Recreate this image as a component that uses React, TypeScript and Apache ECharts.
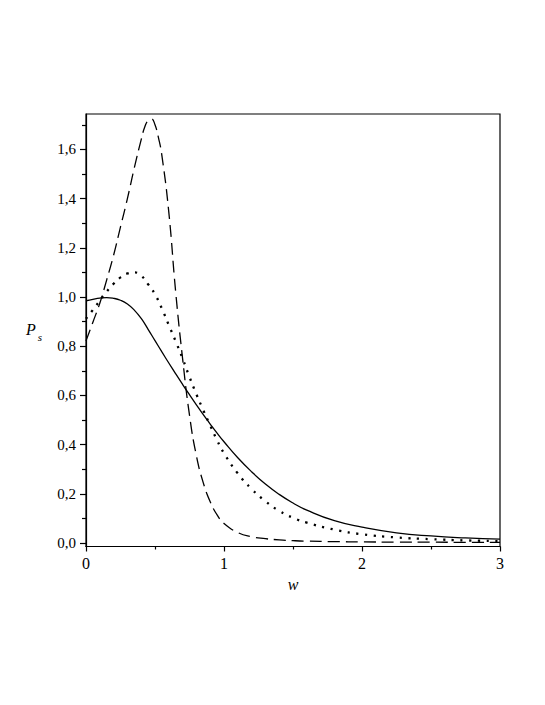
import React, { useEffect, useRef } from "react";
import * as echarts from "echarts";

// Shared abscissa grid (w) for the solid and dotted curves
const W = [
  0, 0.05, 0.1, 0.15, 0.2, 0.25, 0.3, 0.35, 0.4, 0.45, 0.5, 0.55, 0.6, 0.65, 0.7,
  0.75, 0.8, 0.85, 0.9, 0.95, 1.0, 1.1, 1.2, 1.3, 1.4, 1.5, 1.6, 1.8, 2.0, 2.25,
  2.5, 2.75, 3.0,
];

// Solid curve
const solidValues = [
  0.985, 0.991, 0.996, 0.998, 0.995, 0.987, 0.972, 0.947, 0.913, 0.869, 0.823,
  0.777, 0.732, 0.688, 0.645, 0.603, 0.562, 0.522, 0.484, 0.447, 0.412, 0.347,
  0.29, 0.24, 0.198, 0.163, 0.134, 0.091, 0.065, 0.042, 0.029, 0.021, 0.016,
];

// Dotted curve
const dottedValues = [
  0.912, 0.948, 0.985, 1.022, 1.054, 1.08, 1.096, 1.1, 1.087, 1.052, 1.011,
  0.953, 0.886, 0.82, 0.75, 0.675, 0.605, 0.54, 0.478, 0.418, 0.365, 0.283,
  0.22, 0.17, 0.131, 0.103, 0.083, 0.055, 0.036, 0.023, 0.016, 0.011, 0.008,
];

// Dashed curve (finer sampling round its peak)
const W_DASHED = [
  0, 0.05, 0.1, 0.15, 0.2, 0.25, 0.3, 0.35, 0.4, 0.425, 0.45, 0.475, 0.5, 0.525,
  0.55, 0.6, 0.65, 0.7, 0.75, 0.8, 0.85, 0.9, 0.95, 1.0, 1.1, 1.2, 1.3, 1.4, 1.5,
  1.6, 1.8, 2.0, 2.25, 2.5, 2.75, 3.0,
];
const dashedValues = [
  0.822, 0.898, 0.975, 1.07, 1.17, 1.285, 1.4, 1.525, 1.64, 1.69, 1.718, 1.724,
  1.7, 1.648, 1.575, 1.345, 1.02, 0.75, 0.52, 0.355, 0.245, 0.168, 0.115, 0.08,
  0.043, 0.026, 0.018, 0.013, 0.01, 0.008, 0.006, 0.005, 0.004, 0.004, 0.003,
  0.003,
];

const yMajorTicks = [0, 0.2, 0.4, 0.6, 0.8, 1.0, 1.2, 1.4, 1.6];
const yMinorTicks = [0.1, 0.3, 0.5, 0.7, 0.9, 1.1, 1.3, 1.5, 1.7];

const FONT = "Liberation Serif";

export default function App() {
  const ref = useRef<HTMLDivElement>(null);
  useEffect(() => {
    if (!ref.current) return;
    const chart = echarts.init(ref.current, undefined, { renderer: "svg" });
    const pair = (ws: number[], vals: number[]) => ws.map((w, i) => [w, vals[i]]);
    const yMin = -0.0138;
    const yMax = 1.744;
    chart.setOption({
      animation: false,
      backgroundColor: "#fff",
      textStyle: { fontFamily: FONT },
      grid: {
        left: 86,
        top: 114,
        width: 414,
        height: 432.5,
        show: true,
        borderColor: "#000",
        borderWidth: 1.2,
        backgroundColor: "transparent",
      },
      xAxis: {
        type: "value",
        min: 0,
        max: 3,
        interval: 1,
        name: "w",
        nameLocation: "middle",
        nameGap: 30,
        nameTextStyle: {
          fontFamily: FONT,
          fontStyle: "italic",
          fontSize: 16,
          color: "#000",
        },
        axisLine: { show: true, onZero: false, lineStyle: { color: "#000", width: 1.2 } },
        axisTick: { show: true, inside: false, length: 5, lineStyle: { color: "#000", width: 1.2 } },
        minorTick: { show: true, splitNumber: 2, length: 3, lineStyle: { color: "#000", width: 1.2 } },
        axisLabel: {
          fontFamily: FONT,
          fontSize: 16,
          color: "#000",
          margin: 9,
        },
        splitLine: { show: false },
      },
      yAxis: [
        {
          type: "value",
          min: yMin,
          max: yMax,
          position: "left",
          name: "{p|P}{s|s}",
          nameLocation: "middle",
          nameRotate: 0,
          nameGap: 44,
          nameTextStyle: {
            rich: {
              p: {
                fontFamily: FONT,
                fontStyle: "italic",
                fontSize: 16,
                color: "#000",
                lineHeight: 18,
                verticalAlign: "top",
              },
              s: {
                fontFamily: FONT,
                fontStyle: "italic",
                fontSize: 11,
                color: "#000",
                lineHeight: 12,
                padding: [10, 0, 0, 2],
                verticalAlign: "top",
              },
            },
          },
          axisLine: { show: true, onZero: false, lineStyle: { color: "#000", width: 1.2 } },
          axisTick: {
            show: true,
            inside: false,
            length: 6,
            customValues: yMajorTicks,
            lineStyle: { color: "#000", width: 1.2 },
          },
          axisLabel: {
            customValues: yMajorTicks,
            fontFamily: FONT,
            fontSize: 15,
            color: "#000",
            margin: 10,
            formatter: (v: number) => v.toFixed(1).replace(".", ","),
          },
          splitLine: { show: false },
        },
        {
          type: "value",
          min: yMin,
          max: yMax,
          position: "left",
          offset: 0,
          axisLine: { show: false },
          axisTick: {
            show: true,
            inside: false,
            length: 4,
            customValues: yMinorTicks,
            lineStyle: { color: "#000", width: 1.2 },
          },
          axisLabel: { show: false },
          splitLine: { show: false },
        },
      ],
      series: [
        {
          type: "line",
          name: "solid",
          data: pair(W, solidValues),
          smooth: true,
          showSymbol: false,
          clip: true,
          lineStyle: { color: "#000", width: 1.3, type: "solid" },
        },
        {
          type: "line",
          name: "dotted",
          data: pair(W, dottedValues),
          smooth: true,
          showSymbol: false,
          clip: true,
          lineStyle: { color: "#000", width: 2.3, type: [2.2, 6.5], cap: "butt" },
        },
        {
          type: "line",
          name: "dashed",
          data: pair(W_DASHED, dashedValues),
          smooth: true,
          showSymbol: false,
          clip: true,
          lineStyle: { color: "#000", width: 1.3, type: [12, 6] },
        },
      ],
    });
    return () => chart.dispose();
  }, []);
  return (
    <div
      ref={ref}
      style={{ position: "absolute", left: 0, top: 0, width: 545, height: 705 }}
    />
  );
}
